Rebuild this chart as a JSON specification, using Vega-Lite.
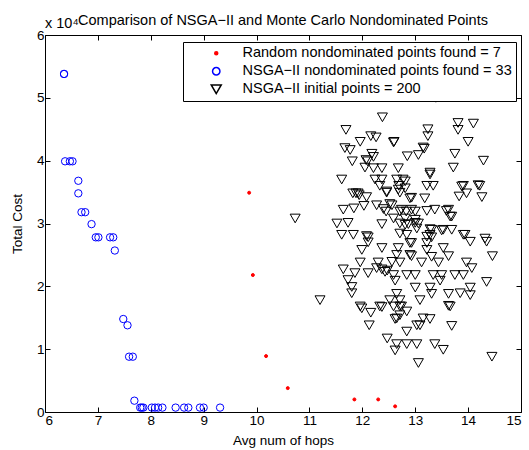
{
  "$schema": "https://vega.github.io/schema/vega-lite/v6.json",
  "width": 476,
  "height": 377,
  "autosize": {"type": "none"},
  "padding": {"left": 45, "top": 35, "right": 8, "bottom": 38},
  "background": "white",
  "config": {
    "font": "Liberation Sans",
    "view": {"stroke": "black", "strokeWidth": 1},
    "axis": {
      "grid": false,
      "domain": false,
      "ticks": true,
      "tickColor": "black",
      "tickSize": -5,
      "labelFont": "Liberation Sans",
      "labelFontSize": 13.5,
      "labelColor": "black",
      "titleFont": "Liberation Sans",
      "titleFontSize": 13.5,
      "titleFontWeight": "normal",
      "titleColor": "black"
    }
  },
  "datasets": {
    "pts": [
      {"series": "R", "hops": 9.86, "cost": 3.49},
      {"series": "R", "hops": 9.93, "cost": 2.18},
      {"series": "R", "hops": 10.18, "cost": 0.89},
      {"series": "R", "hops": 10.59, "cost": 0.38},
      {"series": "R", "hops": 11.85, "cost": 0.2},
      {"series": "R", "hops": 12.3, "cost": 0.2},
      {"series": "R", "hops": 12.62, "cost": 0.09},
      {"series": "N", "hops": 6.36, "cost": 5.38},
      {"series": "N", "hops": 6.36, "cost": 5.38},
      {"series": "N", "hops": 6.38, "cost": 3.99},
      {"series": "N", "hops": 6.47, "cost": 3.99},
      {"series": "N", "hops": 6.52, "cost": 3.99},
      {"series": "N", "hops": 6.63, "cost": 3.68},
      {"series": "N", "hops": 6.63, "cost": 3.48},
      {"series": "N", "hops": 6.69, "cost": 3.18},
      {"series": "N", "hops": 6.76, "cost": 3.18},
      {"series": "N", "hops": 6.88, "cost": 2.99},
      {"series": "N", "hops": 6.96, "cost": 2.78},
      {"series": "N", "hops": 7.01, "cost": 2.78},
      {"series": "N", "hops": 7.23, "cost": 2.78},
      {"series": "N", "hops": 7.29, "cost": 2.78},
      {"series": "N", "hops": 7.32, "cost": 2.57},
      {"series": "N", "hops": 7.48, "cost": 1.48},
      {"series": "N", "hops": 7.56, "cost": 1.38},
      {"series": "N", "hops": 7.59, "cost": 0.88},
      {"series": "N", "hops": 7.66, "cost": 0.88},
      {"series": "N", "hops": 7.69, "cost": 0.18},
      {"series": "N", "hops": 7.8, "cost": 0.07},
      {"series": "N", "hops": 7.83, "cost": 0.07},
      {"series": "N", "hops": 7.86, "cost": 0.07},
      {"series": "N", "hops": 8.02, "cost": 0.07},
      {"series": "N", "hops": 8.08, "cost": 0.07},
      {"series": "N", "hops": 8.14, "cost": 0.07},
      {"series": "N", "hops": 8.22, "cost": 0.07},
      {"series": "N", "hops": 8.47, "cost": 0.07},
      {"series": "N", "hops": 8.63, "cost": 0.07},
      {"series": "N", "hops": 8.71, "cost": 0.07},
      {"series": "N", "hops": 8.93, "cost": 0.07},
      {"series": "N", "hops": 9.0, "cost": 0.07},
      {"series": "N", "hops": 9.31, "cost": 0.07},
      {"series": "I", "hops": 12.38, "cost": 4.69},
      {"series": "I", "hops": 11.69, "cost": 4.49},
      {"series": "I", "hops": 13.81, "cost": 4.6},
      {"series": "I", "hops": 14.1, "cost": 4.59},
      {"series": "I", "hops": 13.81, "cost": 4.49},
      {"series": "I", "hops": 13.24, "cost": 4.5},
      {"series": "I", "hops": 13.24, "cost": 4.39},
      {"series": "I", "hops": 12.16, "cost": 4.39},
      {"series": "I", "hops": 12.26, "cost": 4.37},
      {"series": "I", "hops": 11.96, "cost": 4.3},
      {"series": "I", "hops": 12.6, "cost": 4.3},
      {"series": "I", "hops": 14.0, "cost": 4.3},
      {"series": "I", "hops": 11.67, "cost": 4.2},
      {"series": "I", "hops": 11.77, "cost": 4.17},
      {"series": "I", "hops": 13.17, "cost": 4.19},
      {"series": "I", "hops": 12.18, "cost": 4.11},
      {"series": "I", "hops": 12.85, "cost": 4.07},
      {"series": "I", "hops": 13.06, "cost": 4.09},
      {"series": "I", "hops": 13.75, "cost": 4.11},
      {"series": "I", "hops": 11.81, "cost": 3.99},
      {"series": "I", "hops": 12.1, "cost": 3.99},
      {"series": "I", "hops": 14.29, "cost": 4.0},
      {"series": "I", "hops": 12.05, "cost": 3.89},
      {"series": "I", "hops": 12.21, "cost": 3.88},
      {"series": "I", "hops": 12.37, "cost": 3.88},
      {"series": "I", "hops": 12.68, "cost": 3.88},
      {"series": "I", "hops": 13.72, "cost": 3.89},
      {"series": "I", "hops": 13.28, "cost": 3.78},
      {"series": "I", "hops": 11.61, "cost": 3.7},
      {"series": "I", "hops": 12.24, "cost": 3.7},
      {"series": "I", "hops": 12.37, "cost": 3.7},
      {"series": "I", "hops": 12.65, "cost": 3.7},
      {"series": "I", "hops": 12.77, "cost": 3.7},
      {"series": "I", "hops": 12.33, "cost": 3.6},
      {"series": "I", "hops": 12.69, "cost": 3.6},
      {"series": "I", "hops": 13.22, "cost": 3.6},
      {"series": "I", "hops": 13.34, "cost": 3.6},
      {"series": "I", "hops": 13.91, "cost": 3.6},
      {"series": "I", "hops": 14.22, "cost": 3.6},
      {"series": "I", "hops": 11.82, "cost": 3.48},
      {"series": "I", "hops": 11.92, "cost": 3.48},
      {"series": "I", "hops": 12.46, "cost": 3.49},
      {"series": "I", "hops": 12.71, "cost": 3.49},
      {"series": "I", "hops": 12.93, "cost": 3.41},
      {"series": "I", "hops": 13.18, "cost": 3.4},
      {"series": "I", "hops": 13.83, "cost": 3.43},
      {"series": "I", "hops": 13.97, "cost": 3.48},
      {"series": "I", "hops": 14.26, "cost": 3.42},
      {"series": "I", "hops": 12.08, "cost": 3.42},
      {"series": "I", "hops": 12.03, "cost": 3.28},
      {"series": "I", "hops": 12.27, "cost": 3.29},
      {"series": "I", "hops": 12.52, "cost": 3.31},
      {"series": "I", "hops": 11.64, "cost": 3.22},
      {"series": "I", "hops": 11.84, "cost": 3.24},
      {"series": "I", "hops": 12.45, "cost": 3.19},
      {"series": "I", "hops": 12.71, "cost": 3.19},
      {"series": "I", "hops": 12.83, "cost": 3.19},
      {"series": "I", "hops": 13.0, "cost": 3.19},
      {"series": "I", "hops": 13.22, "cost": 3.2},
      {"series": "I", "hops": 13.59, "cost": 3.2},
      {"series": "I", "hops": 13.69, "cost": 3.11},
      {"series": "I", "hops": 11.52, "cost": 3.0},
      {"series": "I", "hops": 11.73, "cost": 3.01},
      {"series": "I", "hops": 12.37, "cost": 2.99},
      {"series": "I", "hops": 12.71, "cost": 3.0},
      {"series": "I", "hops": 12.87, "cost": 2.99},
      {"series": "I", "hops": 13.06, "cost": 3.0},
      {"series": "I", "hops": 13.31, "cost": 2.9},
      {"series": "I", "hops": 13.5, "cost": 2.89},
      {"series": "I", "hops": 13.69, "cost": 2.9},
      {"series": "I", "hops": 13.91, "cost": 2.82},
      {"series": "I", "hops": 14.04, "cost": 2.71},
      {"series": "I", "hops": 14.35, "cost": 2.71},
      {"series": "I", "hops": 11.61, "cost": 2.82},
      {"series": "I", "hops": 11.83, "cost": 2.82},
      {"series": "I", "hops": 12.11, "cost": 2.78},
      {"series": "I", "hops": 12.11, "cost": 2.7},
      {"series": "I", "hops": 12.71, "cost": 2.84},
      {"series": "I", "hops": 12.84, "cost": 2.82},
      {"series": "I", "hops": 13.22, "cost": 2.79},
      {"series": "I", "hops": 13.31, "cost": 2.78},
      {"series": "I", "hops": 12.93, "cost": 2.69},
      {"series": "I", "hops": 13.22, "cost": 2.69},
      {"series": "I", "hops": 13.39, "cost": 5.0},
      {"series": "I", "hops": 11.99, "cost": 2.58},
      {"series": "I", "hops": 12.37, "cost": 2.61},
      {"series": "I", "hops": 12.68, "cost": 2.61},
      {"series": "I", "hops": 13.22, "cost": 2.58},
      {"series": "I", "hops": 13.53, "cost": 2.61},
      {"series": "I", "hops": 13.63, "cost": 2.48},
      {"series": "I", "hops": 12.93, "cost": 2.48},
      {"series": "I", "hops": 13.31, "cost": 2.47},
      {"series": "I", "hops": 12.65, "cost": 2.5},
      {"series": "I", "hops": 14.46, "cost": 2.48},
      {"series": "I", "hops": 11.96, "cost": 2.38},
      {"series": "I", "hops": 12.3, "cost": 2.38},
      {"series": "I", "hops": 12.56, "cost": 2.39},
      {"series": "I", "hops": 12.71, "cost": 2.38},
      {"series": "I", "hops": 13.12, "cost": 2.38},
      {"series": "I", "hops": 13.44, "cost": 2.38},
      {"series": "I", "hops": 13.97, "cost": 2.38},
      {"series": "I", "hops": 14.07, "cost": 2.29},
      {"series": "I", "hops": 11.64, "cost": 2.27},
      {"series": "I", "hops": 11.86, "cost": 2.21},
      {"series": "I", "hops": 12.11, "cost": 2.21},
      {"series": "I", "hops": 12.37, "cost": 2.27},
      {"series": "I", "hops": 12.47, "cost": 2.25},
      {"series": "I", "hops": 12.59, "cost": 2.18},
      {"series": "I", "hops": 12.84, "cost": 2.18},
      {"series": "I", "hops": 13.0, "cost": 2.18},
      {"series": "I", "hops": 13.34, "cost": 2.18},
      {"series": "I", "hops": 13.5, "cost": 2.18},
      {"series": "I", "hops": 13.75, "cost": 2.18},
      {"series": "I", "hops": 13.91, "cost": 2.18},
      {"series": "I", "hops": 11.73, "cost": 2.1},
      {"series": "I", "hops": 12.62, "cost": 2.09},
      {"series": "I", "hops": 13.47, "cost": 2.09},
      {"series": "I", "hops": 14.35, "cost": 2.07},
      {"series": "I", "hops": 11.8, "cost": 1.99},
      {"series": "I", "hops": 11.8, "cost": 1.89},
      {"series": "I", "hops": 12.65, "cost": 1.88},
      {"series": "I", "hops": 13.0, "cost": 1.98},
      {"series": "I", "hops": 13.28, "cost": 1.98},
      {"series": "I", "hops": 14.04, "cost": 1.98},
      {"series": "I", "hops": 13.85, "cost": 1.89},
      {"series": "I", "hops": 14.04, "cost": 1.86},
      {"series": "I", "hops": 13.63, "cost": 1.88},
      {"series": "I", "hops": 13.31, "cost": 1.88},
      {"series": "I", "hops": 11.2, "cost": 1.78},
      {"series": "I", "hops": 12.52, "cost": 1.78},
      {"series": "I", "hops": 12.71, "cost": 1.78},
      {"series": "I", "hops": 13.09, "cost": 1.78},
      {"series": "I", "hops": 11.96, "cost": 1.68},
      {"series": "I", "hops": 12.33, "cost": 1.68},
      {"series": "I", "hops": 12.59, "cost": 1.68},
      {"series": "I", "hops": 12.71, "cost": 1.68},
      {"series": "I", "hops": 12.84, "cost": 1.6},
      {"series": "I", "hops": 13.63, "cost": 1.69},
      {"series": "I", "hops": 13.66, "cost": 1.68},
      {"series": "I", "hops": 12.16, "cost": 1.58},
      {"series": "I", "hops": 12.65, "cost": 1.49},
      {"series": "I", "hops": 13.15, "cost": 1.49},
      {"series": "I", "hops": 13.28, "cost": 1.48},
      {"series": "I", "hops": 13.03, "cost": 1.38},
      {"series": "I", "hops": 13.09, "cost": 1.38},
      {"series": "I", "hops": 13.69, "cost": 1.37},
      {"series": "I", "hops": 12.13, "cost": 1.38},
      {"series": "I", "hops": 12.62, "cost": 1.48},
      {"series": "I", "hops": 12.84, "cost": 1.28},
      {"series": "I", "hops": 12.47, "cost": 1.17},
      {"series": "I", "hops": 12.65, "cost": 1.08},
      {"series": "I", "hops": 12.84, "cost": 1.08},
      {"series": "I", "hops": 13.03, "cost": 1.08},
      {"series": "I", "hops": 13.37, "cost": 1.08},
      {"series": "I", "hops": 13.53, "cost": 0.99},
      {"series": "I", "hops": 12.62, "cost": 0.98},
      {"series": "I", "hops": 13.06, "cost": 0.78},
      {"series": "I", "hops": 14.45, "cost": 0.88},
      {"series": "I", "hops": 10.73, "cost": 3.08},
      {"series": "I", "hops": 12.07, "cost": 4.01},
      {"series": "I", "hops": 12.21, "cost": 4.06},
      {"series": "I", "hops": 12.81, "cost": 3.67},
      {"series": "I", "hops": 12.46, "cost": 3.51},
      {"series": "I", "hops": 12.68, "cost": 3.54},
      {"series": "I", "hops": 12.81, "cost": 3.56},
      {"series": "I", "hops": 11.94, "cost": 3.45},
      {"series": "I", "hops": 12.56, "cost": 3.29},
      {"series": "I", "hops": 12.4, "cost": 3.23},
      {"series": "I", "hops": 12.74, "cost": 3.22},
      {"series": "I", "hops": 12.93, "cost": 3.22},
      {"series": "I", "hops": 12.59, "cost": 3.08},
      {"series": "I", "hops": 12.81, "cost": 3.08},
      {"series": "I", "hops": 13.0, "cost": 3.06},
      {"series": "I", "hops": 12.81, "cost": 2.98},
      {"series": "I", "hops": 13.15, "cost": 4.21},
      {"series": "I", "hops": 13.28, "cost": 3.81},
      {"series": "I", "hops": 13.88, "cost": 3.59},
      {"series": "I", "hops": 14.19, "cost": 3.61},
      {"series": "I", "hops": 12.9, "cost": 3.4},
      {"series": "I", "hops": 13.37, "cost": 3.22},
      {"series": "I", "hops": 13.63, "cost": 3.22},
      {"series": "I", "hops": 13.66, "cost": 3.11},
      {"series": "I", "hops": 13.0, "cost": 3.01},
      {"series": "I", "hops": 13.03, "cost": 2.92},
      {"series": "I", "hops": 13.28, "cost": 2.91},
      {"series": "I", "hops": 13.53, "cost": 2.9},
      {"series": "I", "hops": 13.94, "cost": 2.82},
      {"series": "I", "hops": 14.32, "cost": 2.76},
      {"series": "I", "hops": 13.28, "cost": 2.82},
      {"series": "I", "hops": 12.08, "cost": 2.8},
      {"series": "I", "hops": 12.9, "cost": 2.69},
      {"series": "I", "hops": 12.9, "cost": 2.5},
      {"series": "I", "hops": 12.27, "cost": 2.29},
      {"series": "I", "hops": 12.43, "cost": 2.23},
      {"series": "I", "hops": 12.74, "cost": 1.68},
      {"series": "I", "hops": 11.99, "cost": 1.65},
      {"series": "I", "hops": 12.37, "cost": 1.67},
      {"series": "I", "hops": 12.71, "cost": 1.54},
      {"series": "I", "hops": 12.59, "cost": 4.29},
      {"series": "I", "hops": 11.88, "cost": 3.48}
    ],
    "note": [{"label": "x 10⁴"}],
    "heading": [{"label": "Comparison of NSGA−II and Monte Carlo Nondominated Points"}]
  },
  "layer": [
    {
      "data": {"name": "pts"},
      "mark": {"type": "point", "opacity": 1, "strokeWidth": 1},
      "encoding": {
        "x": {
          "field": "hops",
          "type": "quantitative",
          "scale": {"domain": [6, 15], "nice": false, "zero": false},
          "axis": {"orient": "bottom", "values": [6, 7, 8, 9, 10, 11, 12, 13, 14, 15], "title": "Avg num of hops", "labelPadding": 6, "titlePadding": 7}
        },
        "y": {
          "field": "cost",
          "type": "quantitative",
          "scale": {"domain": [0, 6], "nice": false},
          "axis": {"orient": "left", "values": [0, 1, 2, 3, 4, 5, 6], "title": "Total Cost", "labelPadding": 6, "titlePadding": 12}
        },
        "shape": {
          "field": "series",
          "type": "nominal",
          "scale": {"domain": ["R", "N", "I"], "range": ["circle", "circle", "triangle-down"]},
          "legend": {
            "orient": "none",
            "legendX": 138,
            "legendY": 7,
            "title": null,
            "strokeColor": "black",
            "fillColor": "white",
            "padding": 4,
            "symbolOffset": 22,
            "labelOffset": 19,
            "rowPadding": 3,
            "labelFontSize": 14.5,
            "labelFont": "Liberation Sans",
            "labelColor": "black",
            "labelLimit": 400,
            "labelExpr": "datum.label == 'R' ? 'Random nondominated points found = 7' : datum.label == 'N' ? 'NSGA−II nondominated points found = 33' : 'NSGA−II initial points  = 200'"
          }
        },
        "size": {
          "field": "series",
          "type": "nominal",
          "scale": {"domain": ["R", "N", "I"], "range": [9, 100, 115]}
        },
        "stroke": {
          "field": "series",
          "type": "nominal",
          "scale": {"domain": ["R", "N", "I"], "range": ["#ff0000", "#0000ff", "#000000"]}
        },
        "fill": {
          "field": "series",
          "type": "nominal",
          "scale": {"domain": ["R", "N", "I"], "range": ["#ff0000", "transparent", "transparent"]}
        }
      }
    },
    {
      "data": {"name": "note"},
      "mark": {"type": "text", "align": "left", "baseline": "alphabetic", "dy": -7, "fontSize": 14.5, "font": "Liberation Sans", "color": "black"},
      "encoding": {
        "x": {"datum": 6, "type": "quantitative", "axis": {"orient": "top", "values": [6, 7, 8, 9, 10, 11, 12, 13, 14, 15], "labels": false, "title": null}},
        "y": {"datum": 6, "type": "quantitative", "axis": {"orient": "right", "values": [0, 1, 2, 3, 4, 5, 6], "labels": false, "title": null}},
        "text": {"field": "label"}
      }
    },
    {
      "data": {"name": "heading"},
      "mark": {"type": "text", "align": "center", "baseline": "alphabetic", "dy": -10, "fontSize": 14.5, "font": "Liberation Sans", "color": "black"},
      "encoding": {
        "x": {"datum": 10.5, "type": "quantitative", "axis": null},
        "y": {"datum": 6, "type": "quantitative", "axis": null},
        "text": {"field": "label"}
      }
    }
  ],
  "resolve": {"axis": {"x": "independent", "y": "independent"}}
}
